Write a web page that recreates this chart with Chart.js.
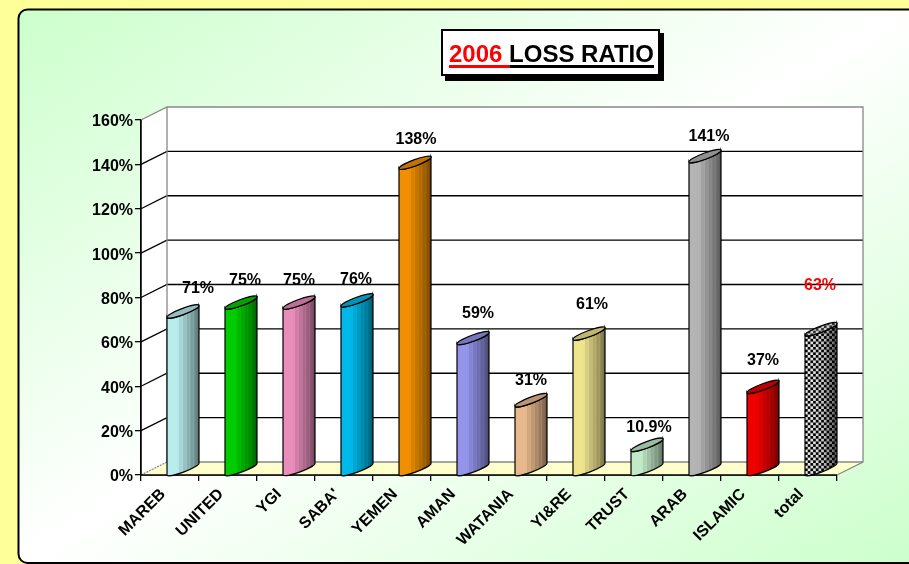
<!DOCTYPE html>
<html><head><meta charset="utf-8">
<style>html,body{margin:0;padding:0;background:#FFFF99;overflow:hidden}canvas{display:block}</style>
<script src="https://cdn.jsdelivr.net/npm/chart.js@4"></script></head>
<body><div style="width:909px;height:564px;position:relative"><canvas id="c" width="909" height="564"></canvas></div>
<script>
const categories=["MAREB","UNITED","YGI","SABA'","YEMEN","AMAN","WATANIA","YI&RE","TRUST","ARAB","ISLAMIC","total"];
const lossRatio=[71,75,75,76,138,59,31,61,10.9,141,37,63];
const valueLabels=["71%","75%","75%","76%","138%","59%","31%","61%","10.9%","141%","37%","63%"];
const yTicks=[0,20,40,60,80,100,120,140,160];
const barColors=["#B9ECEC","#00CC00","#E98DBA","#00B9E9","#F09000","#9494EA","#E9B98E","#EFE48E","#C2EAC8","#B4B4B4","#EE0000","#FFFFFF"];
const labelShift=[[28,-29],[17,-28],[13,-28],[12,-27],[14,-29],[18,-31],[13,-26],[16,-35],[15,-23],[17,-26],[13,-32],[12,-50]];
const DX=26,DY=13,BAR_DY=12,FONT='"Liberation Sans",Arial,sans-serif';

function shade(hex,f){const n=parseInt(hex.slice(1),16);
  return `rgb(${Math.round((n>>16&255)*f)},${Math.round((n>>8&255)*f)},${Math.round((n&255)*f)})`;}

const decor={id:'decor',
  beforeDraw(ch){const c=ch.ctx;c.save();
    c.fillStyle='#FFFF99';c.fillRect(0,0,909,564);
    const g=c.createLinearGradient(214,-113,712,685);
    g.addColorStop(0,'#CCFFCC');g.addColorStop(.5,'#FFFFFF');g.addColorStop(1,'#CCFFCC');
    c.beginPath();c.roundRect(18.5,9.5,960,553.5,9);c.fillStyle=g;c.fill();
    c.lineWidth=2;c.strokeStyle='#000';c.stroke();
    c.restore();},
  beforeDatasetsDraw(ch){const c=ch.ctx,y=ch.scales.y,a=ch.chartArea;c.save();
    const L=a.left,R=a.right,B=a.bottom,T=a.top;
    c.fillStyle='#fff';
    c.beginPath();c.moveTo(L,B);c.lineTo(L,T);c.lineTo(L+DX,T-DY);c.lineTo(R+DX,T-DY);c.lineTo(R+DX,B-DY);c.lineTo(L+DX,B-DY);c.closePath();c.fill();
    c.fillStyle='#FFFFCC';
    c.beginPath();c.moveTo(L,B);c.lineTo(R,B);c.lineTo(R+DX,B-DY);c.lineTo(L+DX,B-DY);c.closePath();c.fill();
    c.lineWidth=1.3;c.strokeStyle='#000';
    yTicks.forEach(v=>{if(v===0||v===160)return;const p=y.getPixelForValue(v);
      c.beginPath();c.moveTo(L,p);c.lineTo(L+DX,p-DY);c.lineTo(R+DX,p-DY);c.stroke();});
    c.strokeStyle='#888';c.lineWidth=1.3;
    c.beginPath();c.moveTo(L,T);c.lineTo(L+DX,T-DY);c.lineTo(R+DX,T-DY);c.lineTo(R+DX,B-DY);c.lineTo(R,B);c.stroke();
    c.beginPath();c.moveTo(L+DX,T-DY);c.lineTo(L+DX,B-DY);c.lineTo(R+DX,B-DY);c.stroke();
    c.setLineDash([2,1]);c.beginPath();c.moveTo(L,B);c.lineTo(L+DX,B-DY);c.stroke();c.setLineDash([]);
    c.strokeStyle='#000';c.lineWidth=1.5;
    c.beginPath();c.moveTo(L,T);c.lineTo(L,B);c.lineTo(R,B);c.stroke();
    c.restore();},
  afterDatasetsDraw(ch){const c=ch.ctx,m=ch.getDatasetMeta(0),y0=ch.scales.y.getPixelForValue(0);c.save();
    m.data.forEach((el,i)=>{
      const w=el.width,x0=el.x-w/2,x1=x0+DX+w,top=el.y,col=barColors[i];
      const W=x1-x0,rot=Math.atan2(-BAR_DY,W),A=Math.hypot(W,BAR_DY)/2,Bb=3.1;
      const mx=(x0+x1)/2;
      const body=()=>{c.beginPath();c.moveTo(x0,y0);
        c.ellipse(mx,y0-BAR_DY/2,A,Bb,rot,Math.PI,0,true);
        c.lineTo(x1,top-BAR_DY);
        c.ellipse(mx,top-BAR_DY/2,A,Bb,rot,0,Math.PI,false);
        c.closePath();};
      c.save();body();c.clip();
      const bands=[[0,.34,1],[.34,.46,.9],[.46,.58,.82],[.58,.70,.74],[.70,.82,.66],[.82,.92,.58],[.92,1.01,.46]];
      const isCheck=i===11;
      bands.forEach(b=>{c.fillStyle=shade(col,isCheck?.95:b[2]);c.fillRect(x0+b[0]*W,top-BAR_DY-6,(b[1]-b[0])*W+.5,y0-top+BAR_DY+12);
        if(b[0]>0&&!isCheck){c.fillStyle=shade(col,Math.min(1,b[2]+.14));c.fillRect(x0+b[0]*W,top-BAR_DY-6,1,y0-top+BAR_DY+12);}});
      if(isCheck){const s=2.7;c.fillStyle='#000';
        for(let ix=0;ix*s<W+s;ix++)for(let iy=0;(top-BAR_DY-6)+iy*s<y0+6;iy++)
          if((ix+iy)%2===0)c.fillRect(x0+ix*s,top-BAR_DY-6+iy*s,s,s);
        const sh=c.createLinearGradient(x0,0,x1,0);sh.addColorStop(0,'rgba(0,0,0,0)');sh.addColorStop(.55,'rgba(0,0,0,.15)');sh.addColorStop(1,'rgba(0,0,0,.65)');
        c.fillStyle=sh;c.fillRect(x0,top-BAR_DY-6,W,y0-top+BAR_DY+12);}
      c.restore();
      c.strokeStyle='#000';c.lineWidth=1.2;body();c.stroke();
      c.beginPath();c.ellipse(mx,top-BAR_DY/2,A,Bb,rot,0,Math.PI*2);
      if(isCheck){c.save();c.clip();const s=2.7;c.fillStyle='#ccc';c.fillRect(x0-1,top-BAR_DY-6,W+2,BAR_DY+12);c.fillStyle='#333';
        for(let ix=0;ix*s<W+s;ix++)for(let iy=0;iy*s<BAR_DY+12;iy++)if((ix+iy)%2===0)c.fillRect(x0+ix*s,top-BAR_DY-6+iy*s,s,s);c.restore();}
      else{c.fillStyle=shade(col,.8);c.fill();}
      c.beginPath();c.ellipse(mx,top-BAR_DY/2,A,Bb,rot,0,Math.PI*2);c.stroke();
      c.font=`bold 16px ${FONT}`;c.textAlign='center';c.textBaseline='middle';
      c.fillStyle=isCheck?'#FF0000':'#000';
      c.fillText(valueLabels[i],el.x+labelShift[i][0],top+labelShift[i][1]);
    });
    c.restore();
    c.save();
    c.fillStyle='#000';c.fillRect(445,33,219,48);
    c.fillStyle='#fff';c.fillRect(441,29,219,47);
    c.strokeStyle='#000';c.lineWidth=2;c.strokeRect(442,30,217,45);
    c.font=`bold 24px ${FONT}`;c.textBaseline='alphabetic';c.textAlign='left';
    const t1='2006',t2=' LOSS RATIO',tx=449,ty=62,w1=c.measureText(t1).width,w2=c.measureText(t2).width;
    c.fillStyle='#FF0000';c.fillText(t1,tx,ty);c.fillRect(tx,ty+3,w1+7,3);
    c.fillStyle='#000';c.fillText(t2,tx+w1,ty);c.fillRect(tx+w1+7,ty+3,w2-7,3);
    c.restore();}
};
new Chart(document.getElementById('c'),{type:'bar',
  data:{labels:categories,datasets:[{data:lossRatio,backgroundColor:'rgba(0,0,0,0)',borderWidth:0,barPercentage:6/58,categoryPercentage:1}]},
  options:{responsive:false,animation:false,
    layout:{padding:{left:0,right:72,top:120,bottom:0}},
    plugins:{legend:{display:false},tooltip:{enabled:false},title:{display:false}},
    scales:{
      x:{border:{color:'#000',width:1.5},grid:{drawOnChartArea:false,color:'#000',tickLength:6,offset:true,lineWidth:1.3},
        ticks:{color:'#000',font:{family:FONT,size:16,weight:'bold'},minRotation:45,maxRotation:45,padding:4,autoSkip:false,labelOffset:-7},
        afterFit(s){s.height=89;}},
      y:{min:0,max:160,border:{color:'#000',width:1.5},grid:{drawOnChartArea:false,color:'#000',tickLength:6,lineWidth:1.3},
        afterBuildTicks(s){s.ticks=yTicks.map(v=>({value:v}));},
        ticks:{color:'#000',font:{family:FONT,size:16,weight:'bold'},padding:2,callback:v=>v+'%'},
        afterFit(s){s.width=141;
          const o=s._computeLabelItems;
          s._computeLabelItems=function(a){const it=o.call(this,a);it.forEach(i=>{i.textOffset+=1;});return it;};}}
    }},
  plugins:[decor]});
</script></body></html>
